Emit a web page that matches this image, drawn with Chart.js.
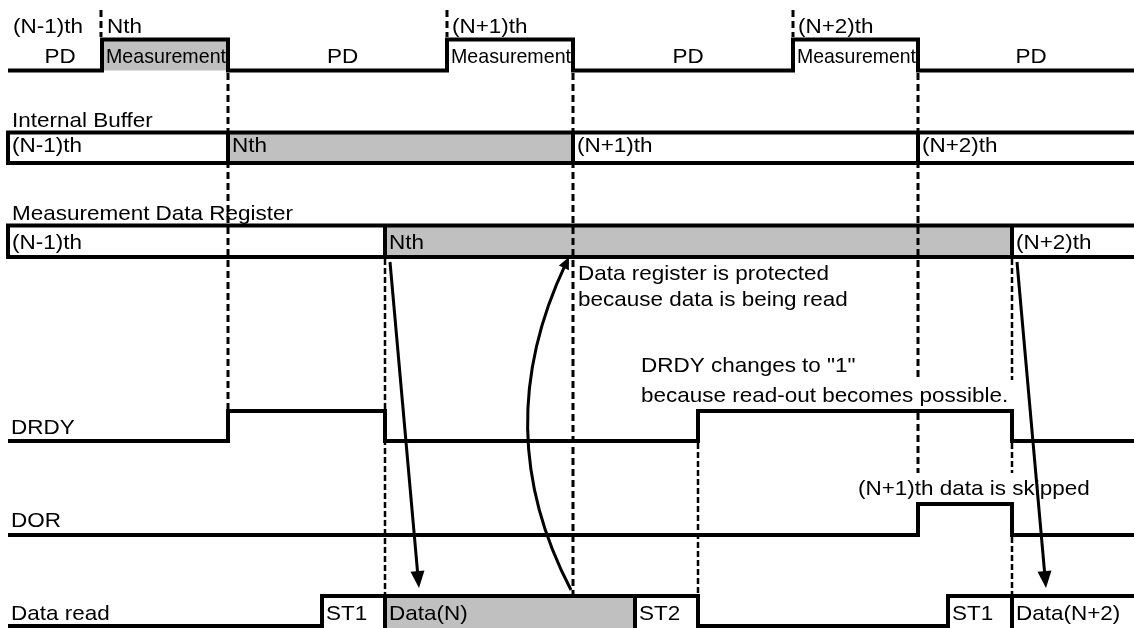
<!DOCTYPE html>
<html>
<head>
<meta charset="utf-8">
<title>Measurement / DRDY / DOR timing</title>
<script src="https://cdn.jsdelivr.net/npm/chart.js@4.4.1/dist/chart.umd.min.js"></script>
<style>
    html, body { margin: 0; padding: 0; background: #fff; overflow: hidden; }
    #chart { display: block; }
</style>
</head>
<body>
<canvas id="chart" width="1134" height="628"></canvas>
<script>
// ---- values (time axis in diagram ticks) ----
const tStart = 8;
const tEnd = 1134;

// PD / Measurement cycle (0 = PD, 1 = Measurement)
const cycleEdges = [102, 228, 447, 573, 793, 918];
const cycleLevels = [0, 1, 0, 1, 0, 1, 0];
const cycleShaded = [false, true, false, false, false, false, false];
const cycleNames = ['(N-1)th', 'Nth', '(N+1)th', '(N+2)th'];

// Internal Buffer
const bufferEdges = [228, 573, 918];
const bufferNames = ['(N-1)th', 'Nth', '(N+1)th', '(N+2)th'];
const bufferShaded = [false, true, false, false];

// Measurement Data Register
const registerEdges = [385, 1012];
const registerNames = ['(N-1)th', 'Nth', '(N+2)th'];
const registerShaded = [false, true, false];

// DRDY and DOR flags
const drdyEdges = [228, 385, 698, 1012];
const drdyLevels = [0, 1, 0, 1, 0];
const dorEdges = [918, 1012];
const dorLevels = [0, 1, 0];

// Data read
const readEdges = [322, 385, 635, 698, 948, 1012];
const readLevels = [0, 1, 1, 1, 0, 1, 1];
const readNames = ['', 'ST1', 'Data(N)', 'ST2', '', 'ST1', 'Data(N+2)'];
const readShaded = [false, false, true, false, false, false, false];

// ---- layout ----
const ROWS = {
    cycle:    { hi: 39.5, lo: 70.5, text: 63, title: 33 },
    buffer:   { hi: 132.5, lo: 163, text: 152, title: 127 },
    register: { hi: 225.5, lo: 257, text: 249, title: 220 },
    drdy:     { hi: 411, lo: 441, title: 434 },
    dor:      { hi: 504, lo: 535, title: 527 },
    read:     { hi: 596, lo: 626, text: 620, title: 620, bottom: 628 }
};
const FONT = '21px "Liberation Sans", Arial, sans-serif';
const STRETCH = 1.07;
const GRAY = '#c0c0c0';

// dashed guide lines: time + vertical extent
const guides = [
    { t: 101, y0: 10, y1: 37, thick: true },
    { t: 228, y0: 73, y1: 409, thick: true },
    { t: 447, y0: 10, y1: 37, thick: true },
    { t: 573, y0: 73, y1: 594, thick: true },
    { t: 793, y0: 10, y1: 37, thick: true },
    { t: 918, y0: 73, y1: 380, thick: true },
    { t: 918, y0: 413, y1: 473, thick: true },
    { t: 385, y0: 259, y1: 594 },
    { t: 698, y0: 443, y1: 594 },
    { t: 1012, y0: 259, y1: 380 },
    { t: 1012, y0: 443, y1: 473 },
    { t: 1012, y0: 537, y1: 594 }
];

const titles = [
    { text: 'Internal Buffer', t: 12, y: ROWS.buffer.title },
    { text: 'Measurement Data Register', t: 12, y: ROWS.register.title },
    { text: 'DRDY', t: 11, y: ROWS.drdy.title },
    { text: 'DOR', t: 11, y: ROWS.dor.title },
    { text: 'Data read', t: 11, y: ROWS.read.title }
];

const notes = [
    { text: 'Data register is protected', t: 578, y: 280 },
    { text: 'because data is being read', t: 578, y: 306 },
    { text: 'DRDY changes to "1"', t: 641, y: 372 },
    { text: 'because read-out becomes possible.', t: 641, y: 402 },
    { text: '(N+1)th data is skipped', t: 858, y: 495 }
];

const arrows = [
    { from: [390, 262], to: [419, 588] },
    { from: [571, 590], via: [487, 430], to: [569, 257] },
    { from: [1017, 262], to: [1046, 588] }
];

// ---- build datasets ----
const datasets = [];

function addLine(points, width = 4, dash = [], order = 1) {
    datasets.push({
        data: points,
        borderColor: '#000',
        borderWidth: width,
        borderDash: dash,
        borderJoinStyle: 'miter',
        borderCapStyle: 'butt',
        pointRadius: 0,
        fill: false,
        tension: 0,
        order: order
    });
}

function addShade(x0, x1, top, bottom) {
    datasets.push({
        data: [{ x: x0, y: top }, { x: x1, y: top }],
        borderWidth: 0,
        borderColor: 'rgba(0,0,0,0)',
        backgroundColor: GRAY,
        pointRadius: 0,
        fill: { value: bottom },
        order: 3
    });
}

const bounds = edges => [tStart, ...edges, tEnd];

function stepPoints(edges, levels, row) {
    const lvl = v => v ? row.hi : row.lo;
    const pts = [{ x: tStart, y: lvl(levels[0]) }];
    edges.forEach((e, i) => {
        pts.push({ x: e, y: lvl(levels[i]) });
        if (levels[i + 1] !== levels[i]) pts.push({ x: e, y: lvl(levels[i + 1]) });
    });
    pts.push({ x: tEnd, y: lvl(levels[levels.length - 1]) });
    return pts;
}

function addBus(edges, shaded, row) {
    const b = bounds(edges);
    shaded.forEach((s, i) => { if (s) addShade(b[i], b[i + 1], row.hi, row.lo); });
    addLine([
        { x: tEnd, y: row.hi }, { x: tStart, y: row.hi },
        { x: tStart, y: row.lo }, { x: tEnd, y: row.lo }
    ]);
    edges.forEach(e => addLine([{ x: e, y: row.hi }, { x: e, y: row.lo }]));
}

// PD / Measurement
const cb = bounds(cycleEdges);
cycleShaded.forEach((s, i) => { if (s) addShade(cb[i], cb[i + 1], ROWS.cycle.hi, ROWS.cycle.lo); });
addLine(stepPoints(cycleEdges, cycleLevels, ROWS.cycle));

addBus(bufferEdges, bufferShaded, ROWS.buffer);
addBus(registerEdges, registerShaded, ROWS.register);

addLine(stepPoints(drdyEdges, drdyLevels, ROWS.drdy));
addLine(stepPoints(dorEdges, dorLevels, ROWS.dor));

// Data read
const rb = bounds(readEdges);
readShaded.forEach((s, i) => { if (s) addShade(rb[i], rb[i + 1], ROWS.read.hi, ROWS.read.bottom); });
addLine(stepPoints(readEdges, readLevels, ROWS.read));
readEdges.forEach((e, i) => {
    if (readLevels[i] && readLevels[i + 1]) {
        addLine([{ x: e, y: ROWS.read.hi }, { x: e, y: ROWS.read.bottom }]);
    }
});

// dashed guides
guides.forEach(g => {
    addLine([{ x: g.t, y: g.y0 }, { x: g.t, y: g.y1 }],
        g.thick ? 3 : 2.5, g.thick ? [7, 4] : [6, 3], 2);
});

// ---- text labels ----
const labels = [...titles, ...notes];
cycleNames.forEach((name, k) => {
    const t = k === 0 ? tStart : cycleEdges[2 * k - 2];
    labels.push({ text: name, t: t + 5, y: ROWS.cycle.title });
});
cycleLevels.forEach((lv, i) => {
    if (lv) {
        labels.push({ text: 'Measurement', t: cb[i] + 4, y: ROWS.cycle.text, maxT: cb[i + 1] - cb[i] - 6, plain: true });
    } else {
        labels.push({ text: 'PD', t: (cb[i] + cb[i + 1]) / 2 + 5, y: ROWS.cycle.text, align: 'center' });
    }
});
const bb = bounds(bufferEdges);
bufferNames.forEach((name, i) => labels.push({ text: name, t: bb[i] + 4, y: ROWS.buffer.text }));
const mb = bounds(registerEdges);
registerNames.forEach((name, i) => labels.push({ text: name, t: mb[i] + 4, y: ROWS.register.text }));
readNames.forEach((name, i) => { if (name) labels.push({ text: name, t: rb[i] + 4, y: ROWS.read.text }); });

function arrowHead(ctx, tip, dx, dy, len, half) {
    const m = Math.hypot(dx, dy), ux = dx / m, uy = dy / m;
    const bx = tip[0] - ux * len, by = tip[1] - uy * len;
    ctx.beginPath();
    ctx.moveTo(tip[0], tip[1]);
    ctx.lineTo(bx - uy * half, by + ux * half);
    ctx.lineTo(bx + uy * half, by - ux * half);
    ctx.closePath();
    ctx.fill();
}

const annotations = {
    id: 'annotations',
    afterDatasetsDraw(chart) {
        const { ctx, scales: { x, y } } = chart;
        const px = p => [x.getPixelForValue(p[0]), y.getPixelForValue(p[1])];
        ctx.save();
        ctx.fillStyle = '#000';
        ctx.strokeStyle = '#000';
        ctx.font = FONT;
        ctx.textBaseline = 'alphabetic';
        labels.forEach(l => {
            const [lx, ly] = px([l.t, l.y]);
            ctx.save();
            ctx.translate(lx, ly);
            if (!l.plain) ctx.scale(STRETCH, 1);
            ctx.textAlign = l.align || 'left';
            if (l.maxT) ctx.fillText(l.text, 0, 0, x.getPixelForValue(l.maxT) - x.getPixelForValue(0));
            else ctx.fillText(l.text, 0, 0);
            ctx.restore();
        });

        // arrows
        ctx.lineWidth = 3;
        ctx.lineCap = 'butt';
        arrows.forEach(a => {
            const p0 = px(a.from), p1 = px(a.to);
            if (a.via) {
                const c = px(a.via);
                const dx = p1[0] - c[0], dy = p1[1] - c[1];
                const m = Math.hypot(dx, dy);
                const e = [p1[0] - dx / m * 8, p1[1] - dy / m * 8];
                ctx.beginPath();
                ctx.moveTo(p0[0], p0[1]);
                ctx.quadraticCurveTo(c[0], c[1], e[0], e[1]);
                ctx.stroke();
                arrowHead(ctx, p1, dx, dy, 12, 5.5);
            } else {
                const dx = p1[0] - p0[0], dy = p1[1] - p0[1];
                const m = Math.hypot(dx, dy);
                ctx.beginPath();
                ctx.moveTo(p0[0], p0[1]);
                ctx.lineTo(p1[0] - dx / m * 14, p1[1] - dy / m * 14);
                ctx.stroke();
                arrowHead(ctx, p1, dx, dy, 17, 7);
            }
        });
        ctx.restore();
    }
};

new Chart(document.getElementById('chart'), {
    type: 'line',
    data: { datasets: datasets },
    options: {
        responsive: false,
        animation: false,
        events: [],
        layout: { padding: 0 },
        scales: {
            x: { type: 'linear', min: 0, max: 1134, display: false },
            y: { type: 'linear', min: 0, max: 628, reverse: true, display: false }
        },
        plugins: {
            legend: { display: false },
            tooltip: { enabled: false }
        }
    },
    plugins: [annotations]
});
</script>
</body>
</html>
